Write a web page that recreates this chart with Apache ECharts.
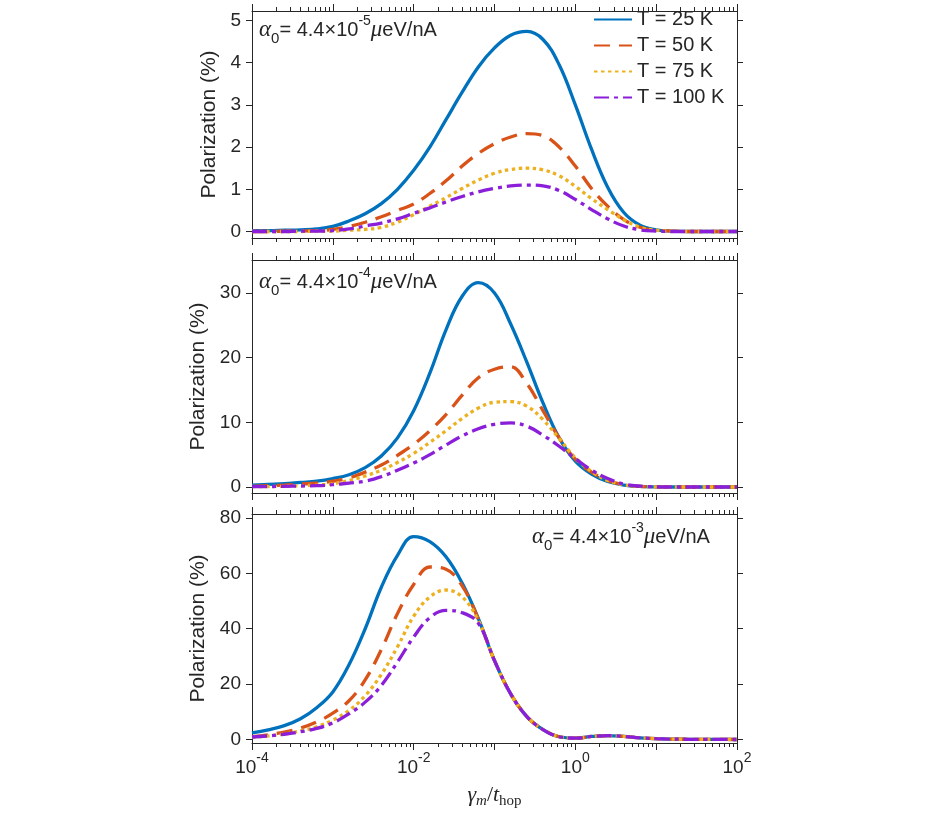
<!DOCTYPE html>
<html>
<head>
<meta charset="utf-8">
<title>Polarization vs dephasing</title>
<script src="https://cdn.jsdelivr.net/npm/echarts@6/dist/echarts.min.js"></script>
</head>
<body style="margin:0;background:#fff">
<div id="main" style="width:948px;height:828px"></div>
<script>
// gamma_m / t_hop sample points, 0.2 decade apart
var gammaRatio = [1e-4, 1.585e-4, 2.512e-4, 3.981e-4, 6.31e-4, 1e-3, 1.585e-3, 2.512e-3, 3.981e-3, 6.31e-3,
    1e-2, 1.585e-2, 2.512e-2, 3.981e-2, 6.31e-2, 0.1, 0.1585, 0.2512, 0.3981, 0.631,
    1, 1.585, 2.512, 3.981, 6.31, 10, 15.85, 25.12, 39.81, 63.1, 100];

var tempNames = ['T = 25 K', 'T = 50 K', 'T = 75 K', 'T = 100 K'];

// alpha0 = 4.4e-5
var p1_T25  = [0.02,0.02,0.03,0.04,0.06,0.12,0.25,0.42,0.66,1.0,1.45,2.0,2.65,3.3,3.9,4.35,4.65,4.74,4.55,3.95,3.0,1.95,1.05,0.45,0.15,0.04,0.01,0,0,0,0];
var p1_T50  = [0,0,0.01,0.01,0.02,0.05,0.12,0.22,0.35,0.5,0.65,0.9,1.2,1.55,1.85,2.08,2.24,2.32,2.27,2.0,1.55,1.02,0.6,0.28,0.1,0.03,0.01,0,0,0,0];
var p1_T75  = [0,0,0,0,0.01,0.01,0.03,0.05,0.1,0.22,0.4,0.6,0.8,1.02,1.22,1.38,1.47,1.5,1.46,1.32,1.07,0.78,0.52,0.28,0.1,0.03,0.01,0,0,0,0];
var p1_T100 = [0,0,0,0.01,0.01,0.02,0.06,0.13,0.2,0.3,0.43,0.56,0.7,0.83,0.94,1.02,1.08,1.1,1.08,0.97,0.76,0.52,0.3,0.13,0.04,0.01,0,0,0,0,0];

// alpha0 = 4.4e-4
var p2_T25  = [0.3,0.4,0.5,0.7,0.9,1.3,1.9,3.0,4.8,7.6,11.8,17.6,24.3,29.5,31.6,30.0,25.2,19.3,13.0,7.6,4.0,2.0,0.85,0.3,0.08,0.02,0,0,0,0,0];
var p2_T50  = [0.1,0.2,0.3,0.45,0.6,0.9,1.4,2.3,3.4,4.9,6.6,8.7,11.2,14.2,16.9,18.2,18.6,16.0,11.8,7.6,4.3,2.3,1.0,0.35,0.1,0.02,0,0,0,0,0];
var p2_T75  = [0.05,0.07,0.1,0.2,0.3,0.5,1.0,1.7,2.6,3.8,5.2,6.9,8.7,10.6,12.2,13.1,13.2,12.5,10.4,7.5,4.5,2.4,1.0,0.35,0.1,0.02,0,0,0,0,0];
var p2_T100 = [0.05,0.07,0.1,0.15,0.2,0.35,0.6,0.9,1.6,2.6,3.7,5.0,6.5,7.9,9.0,9.7,9.9,9.4,8.0,6.3,4.4,2.6,1.3,0.45,0.12,0.03,0,0,0,0,0];

// alpha0 = 4.4e-3
var p3_T25  = [2.4,3.5,5.0,7.5,11.5,17.2,27.0,40.0,55.0,66.5,73.3,71.5,66.0,56.5,43.7,28.5,16.5,8.3,3.6,1.0,0.5,1.1,1.4,1.1,0.6,0.3,0.15,0.08,0.04,0.02,0.01];
var p3_T50  = [1.0,1.7,2.7,4.1,6.3,9.5,14.0,21.5,32.5,45.5,56.0,62.3,61.5,55.5,43.5,28.5,16.5,8.3,3.6,1.0,0.5,1.1,1.4,1.1,0.6,0.3,0.15,0.08,0.04,0.02,0.01];
var p3_T75  = [0.8,1.3,2.0,3.1,4.6,7.0,10.5,15.8,23.5,33.5,44.5,51.5,54.0,51.5,43.0,28.5,16.5,8.3,3.6,1.0,0.5,1.1,1.4,1.1,0.6,0.3,0.15,0.08,0.04,0.02,0.01];
var p3_T100 = [0.9,1.3,1.9,2.8,4.0,6.0,9.3,13.5,19.5,28.0,37.0,44.0,46.6,45.8,42.0,28.5,16.5,8.3,3.6,1.0,0.5,1.1,1.4,1.1,0.6,0.3,0.15,0.08,0.04,0.02,0.01];

var panels = [
    {series: [p1_T25, p1_T50, p1_T75, p1_T100], yTicks: [0,1,2,3,4,5], yMin: -0.154, yMax: 5.225, alphaExp: '-5'},
    {series: [p2_T25, p2_T50, p2_T75, p2_T100], yTicks: [0,10,20,30], yMin: -0.93, yMax: 35.1, alphaExp: '-4'},
    {series: [p3_T25, p3_T50, p3_T75, p3_T100], yTicks: [0,20,40,60,80], yMin: -1.26, yMax: 81.44, alphaExp: '-3'}
];

var colors = ['#0072BD', '#D95319', '#EDB120', '#8B1FD9'];
var dashes = ['solid', [16, 9], [3.5, 3.5], [15, 5, 4, 5]];
var gridBoxes = [{top: 11, height: 227}, {top: 260, height: 233}, {top: 514, height: 229}];
var axisColor = '#262626';
var sans = 'Liberation Sans, Arial, sans-serif';
var serif = 'Liberation Serif, DejaVu Serif, serif';

// minor log ticks 2..9 x 10^k, placed on a value axis in log10 space
var minorTicks = [];
for (var k = -4; k < 2; k++) {
    for (var m = 2; m <= 9; m++) minorTicks.push(k + Math.log10(m));
}
var majorTicks = [-4, -3, -2, -1, 0, 1, 2];

var grids = [], xAxes = [], yAxes = [], series = [];
panels.forEach(function (p, i) {
    grids.push({left: 252, right: 211, top: gridBoxes[i].top, height: gridBoxes[i].height});
    var lastPanel = (i === panels.length - 1);
    ['bottom', 'top'].forEach(function (pos) {
        var showLabels = lastPanel && pos === 'bottom';
        xAxes.push({
            gridIndex: i, type: 'value', position: pos, min: -4, max: 2,
            axisLine: {show: true, onZero: false, lineStyle: {color: axisColor, width: 1}},
            axisTick: {show: true, inside: false, length: 7, customValues: majorTicks, lineStyle: {color: axisColor}},
            axisLabel: {
                show: showLabels, customValues: [-4, -2, 0, 2], margin: 8, color: axisColor,
                fontFamily: sans, fontSize: 19,
                formatter: function (v) { return '{b|10}{sup|' + Math.round(v) + '}'; },
                rich: {
                    b: {fontFamily: sans, fontSize: 19, color: axisColor, lineHeight: 26, verticalAlign: 'bottom'},
                    sup: {fontFamily: sans, fontSize: 14, color: axisColor, lineHeight: 26, verticalAlign: 'top'}
                }
            },
            splitLine: {show: false},
            name: showLabels ? '{g|γ}{s|m}{t|/}{g|t}{h|hop}' : '',
            nameLocation: 'middle', nameGap: 38,
            nameTextStyle: {
                rich: {
                    g: {fontFamily: serif, fontStyle: 'italic', fontSize: 22, color: axisColor, lineHeight: 28},
                    s: {fontFamily: serif, fontStyle: 'italic', fontSize: 15, color: axisColor, lineHeight: 28, verticalAlign: 'bottom'},
                    t: {fontFamily: serif, fontSize: 22, color: axisColor, lineHeight: 28},
                    h: {fontFamily: serif, fontSize: 15, color: axisColor, lineHeight: 28, verticalAlign: 'bottom'}
                }
            }
        });
    });
    ['bottom', 'top'].forEach(function (pos) {
        xAxes.push({
            gridIndex: i, type: 'value', position: pos, min: -4, max: 2,
            axisLine: {show: false, onZero: false},
            axisTick: {show: true, inside: false, length: 4, customValues: minorTicks, lineStyle: {color: axisColor}},
            axisLabel: {show: false},
            splitLine: {show: false}
        });
    });
    ['left', 'right'].forEach(function (pos) {
        yAxes.push({
            gridIndex: i, type: 'value', position: pos, min: p.yMin, max: p.yMax,
            axisLine: {show: true, onZero: false, lineStyle: {color: axisColor, width: 1}},
            axisTick: {show: true, inside: false, length: 6, customValues: p.yTicks, lineStyle: {color: axisColor}},
            axisLabel: {show: pos === 'left', customValues: p.yTicks, margin: 11, color: axisColor, fontFamily: sans, fontSize: 19},
            splitLine: {show: false},
            name: pos === 'left' ? 'Polarization (%)' : '',
            nameLocation: 'middle', nameGap: 28,
            nameTextStyle: {fontFamily: sans, fontSize: 21, color: axisColor}
        });
    });
    p.series.forEach(function (vals, j) {
        series.push({
            name: tempNames[j], type: 'line', xAxisIndex: 4 * i, yAxisIndex: 2 * i,
            data: gammaRatio.map(function (g, n) { return [Math.log10(g), vals[n]]; }),
            symbol: 'none', smooth: 0.4,
            lineStyle: {color: colors[j], width: 3.3, type: dashes[j], cap: 'butt'},
            itemStyle: {color: colors[j]},
            animation: false
        });
    });
});

var alphaRich = {
    a: {fontFamily: serif, fontStyle: 'italic', fontSize: 23, fill: axisColor},
    sub: {fontFamily: sans, fontSize: 15, fill: axisColor, lineHeight: 32, verticalAlign: 'bottom'},
    t: {fontFamily: sans, fontSize: 20, fill: axisColor},
    sup: {fontFamily: sans, fontSize: 14, fill: axisColor, lineHeight: 32, verticalAlign: 'top'},
    mu: {fontFamily: serif, fontStyle: 'italic', fontSize: 23, fill: axisColor}
};
var alphaPos = [{x: 259, y: 14}, {x: 259, y: 266}, {x: 532, y: 521}];
var graphics = panels.map(function (p, i) {
    return {
        type: 'text', x: alphaPos[i].x, y: alphaPos[i].y, z: 100,
        style: {
            text: '{a|α}{sub|0}{t|= 4.4×10}{sup|' + p.alphaExp + '}{mu|μ}{t|eV/nA}',
            rich: alphaRich
        }
    };
});

var chart = echarts.init(document.getElementById('main'));
chart.setOption({
    backgroundColor: '#fff',
    animation: false,
    grid: grids,
    xAxis: xAxes,
    yAxis: yAxes,
    legend: {
        data: tempNames, orient: 'vertical', left: 593, top: 9, padding: 0,
        itemWidth: 38, itemHeight: 14, itemGap: 5,
        itemStyle: {opacity: 0},
        textStyle: {fontFamily: sans, fontSize: 20, color: axisColor, lineHeight: 21}
    },
    graphic: graphics,
    series: series
});
</script>
</body>
</html>
